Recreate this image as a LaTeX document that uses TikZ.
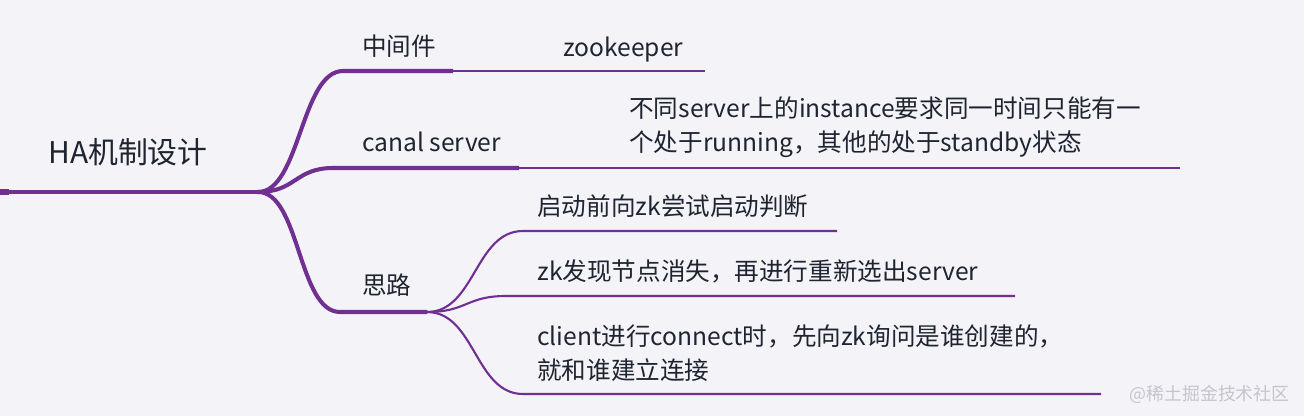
\documentclass[tikz,border=0pt]{standalone}
\usepackage{fontspec}
\setmainfont{Noto Sans CJK SC}
\definecolor{mapbg}{HTML}{F4F4F8}
\definecolor{branch}{HTML}{702F91}
\definecolor{ink}{HTML}{1E2430}
\definecolor{wmark}{HTML}{C4C5CD}

\begin{document}
\begin{tikzpicture}[x=0.02cm,y=-0.02cm,
    trunk/.style={branch,line width=2pt},
    limb/.style={branch,line width=2.3pt},
    limbtail/.style={branch,line width=1.4pt},
    twig/.style={branch,line width=1.2pt},
    title/.style={anchor=base west,inner sep=0pt,text=ink,font=\fontsize{17pt}{20pt}\selectfont},
    topic/.style={anchor=base west,inner sep=0pt,text=ink,align=left,font=\fontsize{14pt}{18.8pt}\selectfont}]
        \fill[mapbg] (0,0) rectangle (1304,416);
        \useasboundingbox (0,0) rectangle (1304,416);
        % root
        \node[title] (root) at (48,163) {HA机制设计};
        \coordinate (start) at (0,192);
        \coordinate (hub) at (258,192);
        \draw[trunk] (start) -- (hub);
        \draw[branch,line width=3pt] (start) -- ++(9,0);
        % first level
        \node[topic] (mid) at (362,55) {中间件};
        \node[topic] (canal) at (362,151) {canal server};
        \node[topic] (idea) at (362,294) {思路};
        \coordinate (midL) at (343,71);
        \coordinate (midR) at (453,71);
        \coordinate (midE) at (705,71);
        \coordinate (canalL) at (333,168);
        \coordinate (canalR) at (519,168);
        \coordinate (canalE) at (1180,168);
        \coordinate (ideaL) at (340,312);
        \coordinate (ideaR) at (427,312);
        \draw[limb] (hub) .. controls +(42,0) and +(-42,0) .. (midL) -- (midR);
        \draw[limb] (hub) .. controls +(38,0) and +(-38,0) .. (canalL) -- (canalR);
        \draw[limb] (hub) .. controls +(42,0) and +(-42,0) .. (ideaL) -- (ideaR);
        \draw[limbtail] (midR) -- (midE);
        \draw[limbtail] (canalR) -- (canalE);
        % leaves (base = last line)
        \node[topic] (zk) at (563,56) {zookeeper};
        \node[topic] (ha) at (629,151) {不同server上的instance要求同一时间只能有一\\个处于running，其他的处于standby状态};
        \node[topic] (pre) at (537,215) {启动前向zk尝试启动判断};
        \node[topic] (lost) at (537,280) {zk发现节点消失，再进行重新选出server};
        \node[topic] (conn) at (537,379) {client进行connect时，先向zk询问是谁创建的，\\就和谁建立连接};
        \coordinate (preL) at (523,231);
        \coordinate (preE) at (837,231);
        \coordinate (lostL) at (506,296);
        \coordinate (lostE) at (1015,296);
        \coordinate (connL) at (523,394);
        \coordinate (connE) at (1101,394);
        \draw[twig] (ideaR) .. controls +(48,0) and +(-48,0) .. (preL) -- (preE);
        \draw[twig] (ideaR) .. controls +(40,0) and +(-40,0) .. (lostL) -- (lostE);
        \draw[twig] (ideaR) .. controls +(48,0) and +(-48,0) .. (connL) -- (connE);
        \node[anchor=base west,inner sep=0pt,text=wmark,font=\fontsize{10.2pt}{12pt}\selectfont] (wm) at (1129,400) {@稀土掘金技术社区};
\end{tikzpicture}
\end{document}
